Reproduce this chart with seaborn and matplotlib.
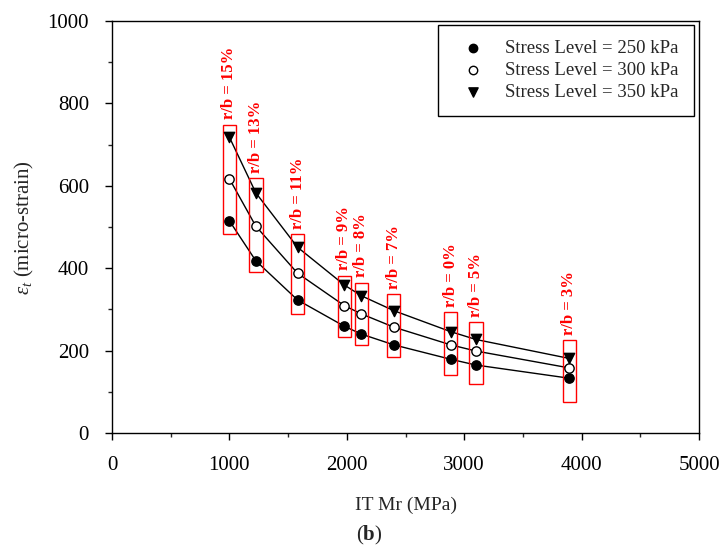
import matplotlib
matplotlib.use("Agg")
import matplotlib.pyplot as plt
import seaborn as sns
import pandas as pd
from matplotlib.patches import Rectangle
from matplotlib.ticker import MultipleLocator

# ---- data ----
it_mr = [1000, 1225, 1580, 1980, 2125, 2400, 2885, 3100, 3895]
rb_labels = ["r/b = 15%", "r/b = 13%", "r/b = 11%", "r/b = 9%", "r/b = 8%",
             "r/b = 7%", "r/b = 0%", "r/b = 5%", "r/b = 3%"]
strain_250 = [515, 418, 323, 259, 240, 214, 179, 165, 133]
strain_300 = [617, 502, 388, 309, 289, 257, 214, 199, 158]
strain_350 = [718, 583, 451, 359, 333, 297, 246, 227, 181]
series_names = ["Stress Level = 250 kPa", "Stress Level = 300 kPa", "Stress Level = 350 kPa"]
# red highlight boxes (strain range enclosed by each box)
box_low = [483, 390, 289, 232, 214, 185, 142, 119, 75]
box_high = [748, 618, 482, 382, 365, 337, 293, 269, 225]

sns.set_style("ticks")
plt.rcParams['font.family'] = ['Liberation Serif', 'DejaVu Serif']
plt.rcParams['mathtext.fontset'] = 'custom'
plt.rcParams['mathtext.rm'] = 'Liberation Serif'
plt.rcParams['mathtext.it'] = 'Liberation Serif:italic'
plt.rcParams['mathtext.bf'] = 'Liberation Serif:bold'

rows = []
for name, vals in zip(series_names, [strain_250, strain_300, strain_350]):
    for x, y in zip(it_mr, vals):
        rows.append({"series": name, "x": x, "y": y})
df = pd.DataFrame(rows)

fig = plt.figure(figsize=(7.24, 5.5), dpi=100)
ax = fig.add_axes([0.1547, 0.2127, 0.8108, 0.7491])

# lines
for name in series_names:
    sub = df[df.series == name]
    sns.lineplot(data=sub, x="x", y="y", ax=ax, color="black", lw=1.0,
                 sort=True, legend=False, zorder=2)

# markers
styles = {
    series_names[0]: dict(marker="o", facecolor="black", s=45),
    series_names[1]: dict(marker="o", facecolor="white", s=45),
    series_names[2]: dict(marker="v", facecolor="black", s=55),
}
handles = []
for name in series_names:
    sub = df[df.series == name]
    st = styles[name]
    h = ax.scatter(sub.x, sub.y, marker=st["marker"], s=st["s"],
                   facecolor=st["facecolor"], edgecolor="black", linewidth=1.0,
                   zorder=4, label=name)
    handles.append(h)

# red boxes and labels
for x, lab, lo, hi in zip(it_mr, rb_labels, box_low, box_high):
    ax.add_patch(Rectangle((x - 57, lo), 114, hi - lo, fill=False,
                           edgecolor="red", linewidth=1.0, zorder=3))
    ax.annotate(lab, xy=(x, hi), xytext=(0, 4), textcoords="offset points",
                rotation=90, ha="center", va="bottom", color="red",
                fontsize=12, fontweight="bold")

ax.set_xlim(0, 5000)
ax.set_ylim(0, 1000)
ax.xaxis.set_major_locator(MultipleLocator(1000))
ax.xaxis.set_minor_locator(MultipleLocator(500))
ax.yaxis.set_major_locator(MultipleLocator(200))
ax.yaxis.set_minor_locator(MultipleLocator(100))
ax.tick_params(which="major", direction="out", length=5, width=1, labelsize=15,
               pad=11.5, top=False, right=False, colors="black")
ax.tick_params(which="minor", direction="out", length=3, width=1,
               top=False, right=False)
for sp in ax.spines.values():
    sp.set_visible(True)
    sp.set_color("black")
    sp.set_linewidth(1.0)

ax.set_xlabel("IT Mr (MPa)", fontsize=14, labelpad=16)
ax.set_ylabel(r"$\varepsilon_t$ (micro-strain)", fontsize=15, labelpad=8)

leg = ax.legend(handles=handles, labels=series_names, loc="upper right",
                bbox_to_anchor=(0.991, 0.99), borderaxespad=0, fontsize=13.5,
                frameon=True, fancybox=False, framealpha=1, edgecolor="black",
                borderpad=0.8, labelspacing=0.25, handletextpad=0.67,
                handlelength=2.1, markerscale=0.9)
leg.get_frame().set_linewidth(1.0)

fig.text(0.51, 0.0255, r"($\mathbf{b}$)", ha="center", va="center", fontsize=15)

fig.savefig("out.png", dpi=100)
